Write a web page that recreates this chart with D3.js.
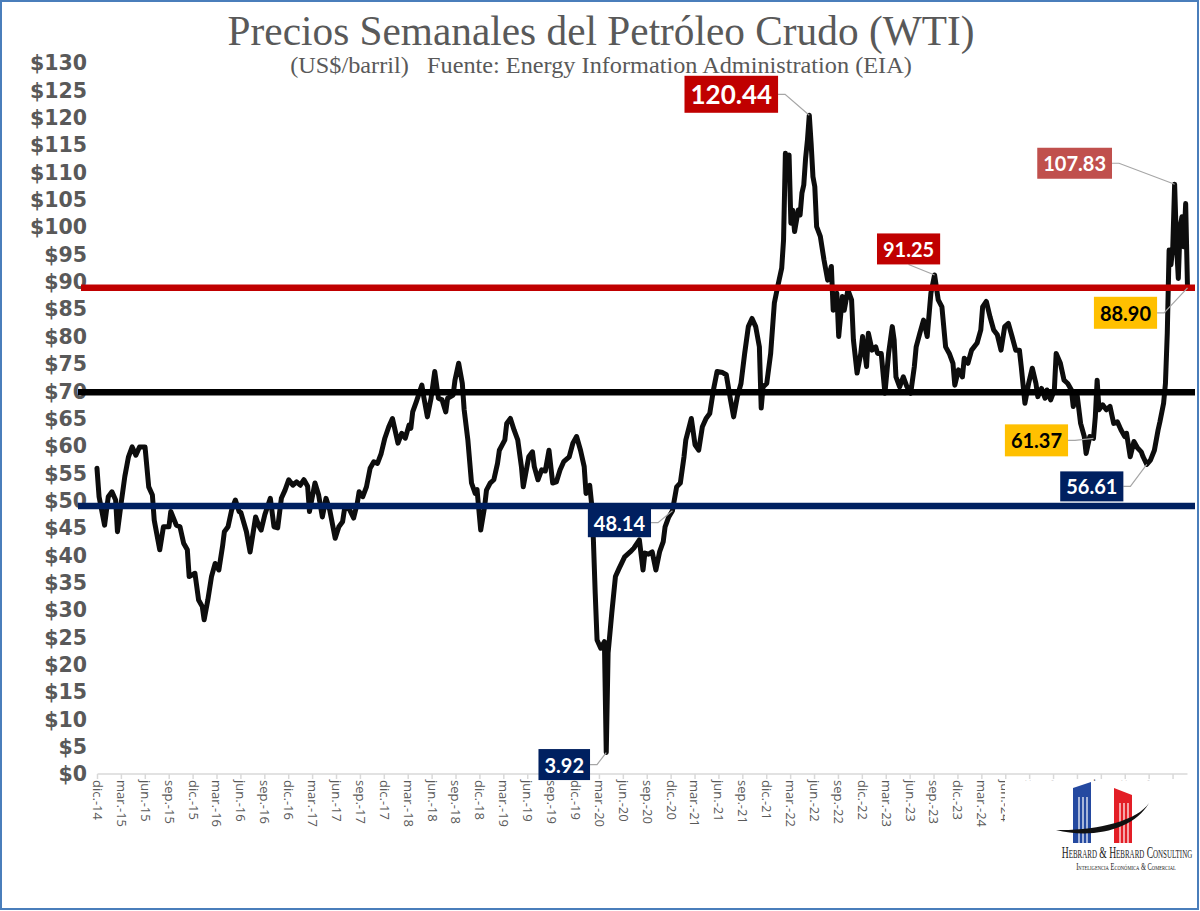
<!DOCTYPE html>
<html>
<head>
<meta charset="utf-8">
<script src="https://cdn.jsdelivr.net/npm/d3@7"></script>
<style>
body{margin:0;background:#fff;}
svg{display:block;}
</style>
</head>
<body>
<div id="chart"></div>
<script>
// Weekly WTI prices: [week of year, US$/barrel]
var prices2014 = [[51,55.9]];
var prices2015 = [[0,50.7],[3,45.5],[5,50.7],[7,51.6],[9,50.1],[10,44.3],[12,49.5],[14,54.4],[16,58.0],[18,59.8],[20,58.3],[22,59.8],[25,59.8],[27,52.5],[29,51.0],[30,46.4],[33,41.0],[35,45.2],[38,45.2],[39,48.0],[42,45.5],[44,45.2],[46,42.2],[48,41.0],[49,36.1]];
var prices2016 = [[0,36.7],[2,31.8],[4,30.6],[5,28.2],[7,31.8],[9,36.1],[11,38.5],[13,37.3],[15,41.6],[16,44.3],[18,45.2],[20,48.3],[22,50.1],[24,48.0],[25,47.8],[28,44.3],[30,40.6],[33,47.0],[35,45.2],[36,44.6],[38,47.4],[41,50.4],[43,45.2],[45,45.0],[47,50.4],[49,51.9],[51,53.8]];
var prices2017 = [[1,52.8],[3,53.4],[5,52.8],[7,53.8],[9,52.6],[10,48.0],[13,53.2],[15,51.0],[17,47.0],[19,50.4],[21,48.3],[24,43.1],[26,45.2],[28,46.1],[29,48.3],[31,48.9],[34,46.8],[36,49.5],[37,51.6],[39,50.7],[41,52.5],[43,55.9],[45,57.1],[47,56.8],[49,58.6],[51,61.4]];
var prices2018 = [[1,63.5],[3,65.0],[6,60.5],[8,62.3],[10,61.4],[12,63.8],[13,63.2],[14,66.2],[16,68.1],[19,71.1],[20,69.0],[22,65.3],[24,68.7],[26,73.6],[28,68.7],[30,68.4],[32,66.2],[33,68.7],[36,69.3],[37,72.0],[39,75.1],[41,71.4],[42,66.6],[44,61.1],[46,53.2],[48,51.3],[49,52.0],[51,44.6]];
var prices2019 = [[1,48.9],[2,51.9],[4,53.2],[6,53.8],[8,56.8],[9,59.2],[12,61.1],[13,64.1],[15,65.0],[17,62.9],[19,61.1],[21,56.2],[22,52.5],[25,58.0],[27,58.9],[28,56.2],[30,53.8],[32,55.6],[34,55.4],[36,59.2],[38,53.2],[40,53.4],[42,55.6],[44,57.1],[47,58.0],[49,60.5],[51,61.7]];
var prices2020 = [[1,59.2],[3,56.2],[4,51.3],[6,52.8],[7,49.5],[8,42.8],[9,33.0],[10,24.5],[12,23.0],[14,24.2],[15,3.92],[16,22.1],[18,29.4],[20,36.1],[22,37.6],[25,39.7],[28,40.6],[30,41.3],[33,42.8],[35,37.3],[36,40.4],[38,40.2],[40,40.6],[42,37.3],[44,40.6],[46,42.5],[47,45.2],[49,47.0],[51,48.14]];
var prices2021 = [[1,52.5],[3,53.2],[5,58.0],[6,61.1],[9,65.0],[11,60.2],[13,59.2],[15,63.5],[17,65.0],[19,65.9],[21,70.2],[23,73.6],[26,73.4],[28,73.0],[30,69.0],[32,65.3],[34,69.0],[36,71.4],[38,76.9],[40,81.8],[42,83.3],[44,81.8],[46,78.1],[47,66.9],[48,70.8],[50,71.4]];
var prices2022 = [[0,76.9],[2,86.1],[4,89.4],[6,92.5],[7,97.6],[8,113.5],[9,108.9],[10,113.2],[11,100.7],[12,103.1],[13,99.2],[15,103.1],[16,102.2],[17,106.2],[18,107.7],[19,112.6],[20,115.9],[21,120.44],[22,115.3],[23,109.2],[24,107.4],[25,100.1],[27,98.3],[29,94.0],[31,90.3],[33,92.8],[34,84.8],[36,87.9],[37,80.0],[39,87.3],[40,84.8],[42,88.5],[44,86.7],[45,79.4],[47,73.3],[49,76.9],[50,80.0]];
var prices2023 = [[0,74.5],[1,80.6],[3,77.5],[5,78.1],[6,76.9],[8,76.9],[10,69.6],[12,76.9],[14,81.8],[15,79.4],[16,72.6],[18,70.8],[20,72.6],[22,70.8],[24,69.6],[26,74.5],[27,78.1],[29,80.6],[31,83.0],[33,80.0],[35,87.9],[37,91.25],[39,86.7],[41,85.4],[43,78.1],[45,76.9],[47,75.1],[48,71.1],[50,73.9]];
var prices2024 = [[0,72.6],[1,76.0],[3,75.1],[5,77.5],[8,78.8],[10,81.2],[11,85.4],[13,86.4],[15,83.6],[17,81.2],[19,80.3],[21,77.5],[23,81.8],[25,82.4],[27,80.0],[29,77.5],[31,77.5],[32,74.5],[34,67.8],[36,71.4],[38,74.2],[40,71.4],[41,69.0],[43,70.5],[45,68.7],[46,70.2],[48,68.4],[50,70.2],[51,76.9]];
var prices2025 = [[1,75.1],[3,72.0],[5,71.4],[7,70.2],[8,67.2],[10,69.6],[12,64.1],[14,61.7],[15,58.6],[17,61.7],[19,61.37],[20,65.3],[21,72.0],[22,66.6],[24,67.5],[26,66.6],[28,67.2],[30,64.1],[32,64.4],[34,62.9],[36,61.7],[37,62.3],[39,58.0],[41,60.8],[43,59.6],[45,58.9],[46,58.0],[48,56.61],[50,57.4]];
var prices2026 = [[0,59.2],[2,62.9],[3,64.4],[5,67.8],[6,71.4],[7,80.6],[8,95.8],[9,93.1],[10,96.4],[11,107.83],[12,97.0],[13,90.6],[14,100.1],[15,101.9],[16,96.4],[17,104.3],[18,88.90]];

// horizontal reference levels (US$)
var levels = [49.0, 69.8, 88.90];
// highlighted points: [year, week, price]
var callouts = [[2022,21,120.44],[2023,37,91.25],[2026,11,107.83],[2026,18,88.90],[2025,19,61.37],[2025,48,56.61],[2020,51,48.14],[2020,15,3.92]];

var yTicks = d3.range(0, 131, 5);
var monthNames = ["ene.","feb.","mar.","abr.","may.","jun.","jul.","ago.","sep.","oct.","nov.","dic."];
var firstWeek = new Date(Date.UTC(2014, 11, 26));
var lastWeek = new Date(Date.UTC(2026, 4, 7));

var title = "Precios Semanales del Petróleo Crudo (WTI)";
var subtitle = "(US$/barril)   Fuente: Energy Information Administration (EIA)";

var width = 1200, height = 911;
var plot = {left: 97.5, right: 1187.5, top: 63, bottom: 774};

var yearly = {2014:prices2014, 2015:prices2015, 2016:prices2016, 2017:prices2017, 2018:prices2018, 2019:prices2019,
	2020:prices2020, 2021:prices2021, 2022:prices2022, 2023:prices2023, 2024:prices2024, 2025:prices2025, 2026:prices2026};

function weekDate(year, week){
	return new Date(Date.UTC(year, 0, 1 + 7*week));
}

var series = [];
Object.keys(yearly).forEach(function(yr){
	yearly[yr].forEach(function(p){
		series.push({date: weekDate(+yr, p[0]), value: p[1]});
	});
});
series.sort(function(a, b){ return a.date - b.date; });

var x = d3.scaleUtc()
	.domain([firstWeek, lastWeek])
	.range([plot.left, plot.right]);
var y = d3.scaleLinear()
	.domain([0, 130])
	.range([plot.bottom, plot.top]);

var svg = d3.select("#chart").append("svg")
	.attr("width", width)
	.attr("height", height);

svg.append("rect")
	.attr("width", width).attr("height", height)
	.attr("fill", "#fff");

// squeeze a centred text to a given width
function fitText(sel, cx, cy, targetWidth){
	var natural = sel.node().getComputedTextLength();
	sel.attr("x", 0).attr("y", 0)
		.attr("transform", "translate(" + cx + "," + cy + ") scale(" + (targetWidth/natural) + ",1)");
	return sel;
}

// Title
fitText(svg.append("text")
	.attr("text-anchor", "middle")
	.attr("font-family", "'Liberation Serif', serif")
	.attr("font-size", 43)
	.attr("fill", "#595959")
	.text(title), 601, 45, 747);

fitText(svg.append("text")
	.attr("text-anchor", "middle")
	.attr("font-family", "'Liberation Serif', serif")
	.attr("font-size", 22.5)
	.attr("fill", "#595959")
	.style("white-space", "pre")
	.text(subtitle), 601, 73, 622);

// Y axis labels
svg.append("g").selectAll("text")
	.data(yTicks)
	.enter().append("text")
	.attr("x", 87)
	.attr("y", function(d){ return y(d); })
	.attr("dy", "0.36em")
	.attr("text-anchor", "end")
	.attr("font-family", "'DejaVu Sans', sans-serif")
	.attr("font-weight", "bold")
	.attr("font-size", 20.5)
	.attr("fill", "#595959")
	.text(function(d){ return "$" + d; });

// X axis: one tick every 13 weeks
var xTicks = d3.range(46).map(function(k){ return d3.utcDay.offset(firstWeek, 91*k); });
var fmt = function(d){ return monthNames[d.getUTCMonth()] + "-" + String(d.getUTCFullYear()).slice(2); };

var xAxis = svg.append("g").attr("class", "x axis");
xAxis.append("line")
	.attr("x1", plot.left).attr("x2", plot.right)
	.attr("y1", plot.bottom).attr("y2", plot.bottom)
	.attr("stroke", "#D9D9D9").attr("stroke-width", 1.5);
xAxis.selectAll("line.tick")
	.data(xTicks)
	.enter().append("line")
	.attr("class", "tick")
	.attr("x1", function(d){ return x(d); }).attr("x2", function(d){ return x(d); })
	.attr("y1", plot.bottom).attr("y2", plot.bottom + 5)
	.attr("stroke", "#D9D9D9").attr("stroke-width", 1.5);
xAxis.selectAll("text")
	.data(xTicks)
	.enter().append("text")
	.attr("transform", function(d){ return "translate(" + x(d) + "," + (plot.bottom + 6) + ") rotate(90)"; })
	.attr("dy", "0.35em")
	.attr("font-family", "'Open Sans', sans-serif")
	.attr("font-size", 13)
	.attr("fill", "#595959")
	.text(fmt);

// Price line
var line = d3.line()
	.x(function(d){ return x(d.date); })
	.y(function(d){ return y(d.value); });

svg.append("path")
	.datum(series)
	.attr("d", line)
	.attr("fill", "none")
	.attr("stroke", "#0D0D0D")
	.attr("stroke-width", 5)
	.attr("stroke-linejoin", "round")
	.attr("stroke-linecap", "round");

// Reference levels
var levelColors = ["#002060", "#000000", "#C00000"];
svg.append("g").selectAll("line")
	.data(levels)
	.enter().append("line")
	.attr("x1", function(d, i){ return i == 2 ? 81 : 78; })
	.attr("x2", 1195)
	.attr("y1", function(d){ return y(d); })
	.attr("y2", function(d){ return y(d); })
	.attr("stroke", function(d, i){ return levelColors[i]; })
	.attr("stroke-width", 6.5);

// Callouts
var calloutStyle = {
	"120.44": {dx:-78, dy:-21, fill:"#C00000", color:"#fff", size:26, h:37, anchor:"right"},
	"91.25":  {dx:-26, dy:-26, fill:"#C00000", color:"#fff", size:20, h:31, anchor:"bottom"},
	"107.83": {dx:-100, dy:-21, fill:"#C0504D", color:"#fff", size:20, h:31, anchor:"right"},
	"88.90":  {dx:-62, dy:25, fill:"#FFC000", color:"#000", size:20, h:32, anchor:"right"},
	"61.37":  {dx:-57, dy:2, fill:"#FFC000", color:"#000", size:20, h:32, anchor:"right"},
	"56.61":  {dx:-55, dy:22, fill:"#002060", color:"#fff", size:20, h:30, anchor:"right"},
	"48.14":  {dx:-53, dy:12, fill:"#002060", color:"#fff", size:20, h:29, anchor:"right"},
	"3.92":   {dx:-42, dy:12, fill:"#002060", color:"#fff", size:20, h:31, anchor:"right"}
};

var labels = svg.append("g");
callouts.forEach(function(c){
	var label = c[2].toFixed(2);
	var s = calloutStyle[label];
	var px = x(weekDate(c[0], c[1])), py = y(c[2]);
	var cx = px + s.dx, cy = py + s.dy;
	var g = labels.append("g");
	var leader = g.append("path")
		.attr("fill", "none")
		.attr("stroke", "#A6A6A6")
		.attr("stroke-width", 1.2);
	var box = g.append("rect").attr("fill", s.fill);
	var t = g.append("text")
		.attr("x", cx).attr("y", cy)
		.attr("text-anchor", "middle")
		.attr("dominant-baseline", "central")
		.attr("font-family", "Lato, sans-serif")
		.attr("font-weight", "bold")
		.attr("font-size", s.size)
		.attr("fill", s.color)
		.text(label);
	var w = t.node().getComputedTextLength() + 12;
	box.attr("x", cx - w/2).attr("y", cy - s.h/2).attr("width", w).attr("height", s.h);
	if(s.anchor == "right"){
		leader.attr("d", "M" + (cx + w/2) + "," + cy + "h7L" + px + "," + py);
	} else {
		leader.attr("d", "M" + cx + "," + (cy + s.h/2) + "L" + px + "," + py);
	}
});

// Logo (covers the last axis labels)
var logo = svg.append("g");
logo.append("rect")
	.attr("x", 1005).attr("y", 781).attr("width", 190).attr("height", 124)
	.attr("fill", "#fff");
logo.append("path")
	.attr("d", "M1073,788L1091,782L1091,843L1073,843Z")
	.attr("fill", "#2449A0");
logo.append("path")
	.attr("d", "M1114,788L1132,795L1132,843L1114,843Z")
	.attr("fill", "#E31E26");
[1079, 1083, 1087].forEach(function(sx){
	logo.append("line").attr("x1", sx).attr("x2", sx).attr("y1", 797).attr("y2", 843)
		.attr("stroke", "#fff").attr("stroke-width", 1.2);
});
[1120, 1124, 1128].forEach(function(sx){
	logo.append("line").attr("x1", sx).attr("x2", sx).attr("y1", 803).attr("y2", 843)
		.attr("stroke", "#fff").attr("stroke-width", 1.2);
});
logo.append("path")
	.attr("d", "M1056,830C1092,839 1134,830 1149,803C1137,821 1096,831 1056,830Z")
	.attr("fill", "#111");
fitText(logo.append("text")
	.attr("text-anchor", "middle")
	.attr("font-family", "'Liberation Serif', serif")
	.attr("font-size", 17)
	.style("font-variant", "small-caps")
	.attr("fill", "#222")
	.text("Hebrard & Hebrard Consulting"), 1127, 858, 128);
fitText(logo.append("text")
	.attr("text-anchor", "middle")
	.attr("font-family", "'Liberation Serif', serif")
	.attr("font-size", 10)
	.style("font-variant", "small-caps")
	.attr("fill", "#222")
	.text("Inteligencia Económica & Comercial"), 1126, 870, 98);

// Outer border
svg.append("rect")
	.attr("x", 1).attr("y", 1)
	.attr("width", width - 3).attr("height", height - 3)
	.attr("fill", "none")
	.attr("stroke", "#4A7EBB")
	.attr("stroke-width", 2);
</script>
</body>
</html>
